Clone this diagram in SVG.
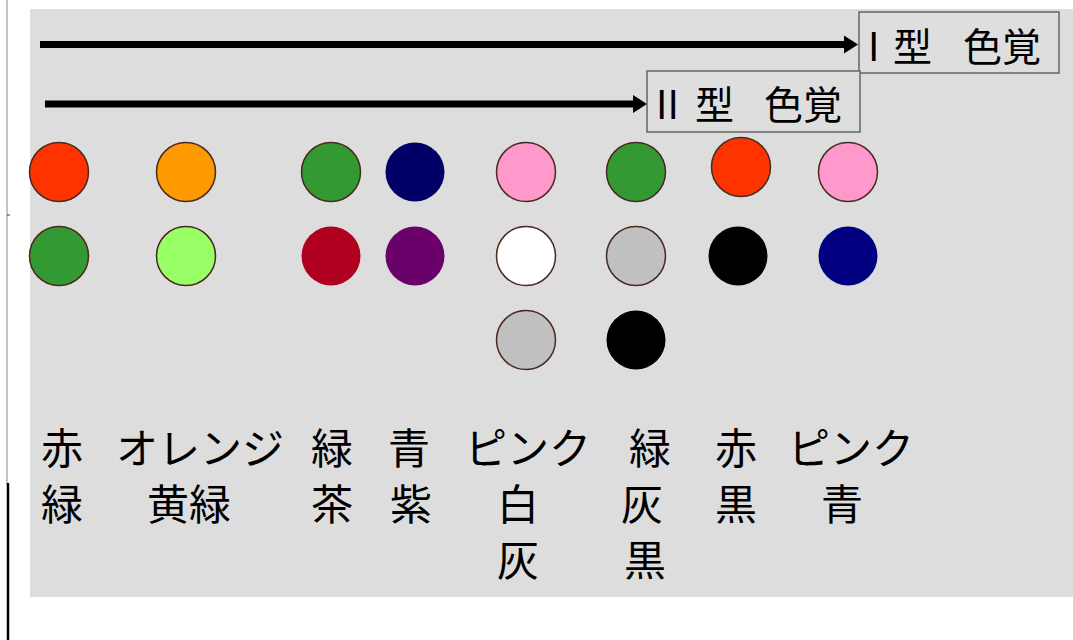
<svg xmlns="http://www.w3.org/2000/svg" width="1073" height="640" viewBox="0 0 1073 640">
<defs>
<style>
.lbl{font-family:"Noto Sans CJK JP","Liberation Sans",sans-serif;font-size:42px;fill:#000}
.ttl{font-family:"Noto Sans CJK JP","Liberation Sans",sans-serif;font-size:39px;fill:#000}
.box{fill:#dedede;stroke:#666;stroke-width:1.5}
.ol{stroke:#4a2a20;stroke-width:1.5}
.arr{stroke:#000;stroke-width:7;fill:none}
</style>
<marker id="ah" markerWidth="14" markerHeight="20" refX="6" refY="10" orient="auto" markerUnits="userSpaceOnUse">
<path d="M0,1 L14,10 L0,19 Z" fill="#000"/>
</marker>
</defs>
<rect width="1073" height="640" fill="#fff"/>
<line x1="7" y1="0" x2="7" y2="484" stroke="#888" stroke-width="1"/>
<line x1="7" y1="215" x2="10" y2="215" stroke="#333" stroke-width="1"/>
<line x1="8" y1="483" x2="8" y2="640" stroke="#000" stroke-width="2.5"/>
<rect id="panel" x="30" y="9" width="1043" height="588" fill="#dddddd"/>
<g id="connectors">
<line class="arr" x1="40" y1="44.5" x2="850" y2="44.5" marker-end="url(#ah)"/>
<line class="arr" x1="45" y1="104" x2="639" y2="104" marker-end="url(#ah)"/>
</g>
<g id="type1">
<rect class="box" x="859" y="12" width="200" height="61"/>
<text class="ttl" y="61"><tspan x="868">I</tspan><tspan x="893">型</tspan><tspan x="963">色覚</tspan></text>
</g>
<g id="type2">
<rect class="box" x="647" y="71" width="213" height="61"/>
<text class="ttl" y="119"><tspan x="656">II</tspan><tspan x="695">型</tspan><tspan x="764">色覚</tspan></text>
</g>
<g id="circles">
<circle class="ol" cx="59" cy="172" r="29.5" fill="#ff3300"/>
<circle class="ol" cx="186" cy="172" r="29.5" fill="#ff9900"/>
<circle class="ol" cx="331" cy="172" r="29.5" fill="#339933" stroke="#224422"/>
<circle cx="415" cy="172" r="29.5" fill="#000066"/>
<circle class="ol" cx="526" cy="172" r="29.5" fill="#ff99cc" stroke="#6a4a55"/>
<circle class="ol" cx="636" cy="172" r="29.5" fill="#339933" stroke="#224422"/>
<circle class="ol" cx="741" cy="167" r="29.5" fill="#ff3300"/>
<circle class="ol" cx="848" cy="172" r="29.5" fill="#ff99cc" stroke="#6a4a55"/>
<circle class="ol" cx="59" cy="256" r="29.5" fill="#339933" stroke="#224422"/>
<circle class="ol" cx="186" cy="256" r="29.5" fill="#99ff66" stroke="#335522"/>
<circle cx="331" cy="256" r="29.5" fill="#b00020"/>
<circle cx="415" cy="256" r="29.5" fill="#6a006a"/>
<circle class="ol" cx="526" cy="256" r="29.5" fill="#ffffff" stroke="#666"/>
<circle class="ol" cx="636" cy="256" r="29.5" fill="#c0c0c0" stroke="#666"/>
<circle cx="738" cy="256" r="29.5" fill="#000000"/>
<circle cx="848" cy="256" r="29.5" fill="#000080"/>
<circle class="ol" cx="526" cy="340" r="29.5" fill="#c0c0c0" stroke="#666"/>
<circle cx="636" cy="340" r="29.5" fill="#000000"/>
</g>
<g id="labels">
<text class="lbl" y="464"><tspan x="41">赤</tspan><tspan x="116">オレンジ</tspan><tspan x="311">緑</tspan><tspan x="388">青</tspan><tspan x="465">ピンク</tspan><tspan x="629">緑</tspan><tspan x="715">赤</tspan><tspan x="788">ピンク</tspan></text>
<text class="lbl" y="520"><tspan x="41">緑</tspan><tspan x="147">黄緑</tspan><tspan x="311">茶</tspan><tspan x="390">紫</tspan><tspan x="497">白</tspan><tspan x="621">灰</tspan><tspan x="715">黒</tspan><tspan x="821">青</tspan></text>
<text class="lbl" y="576"><tspan x="497">灰</tspan><tspan x="624">黒</tspan></text>
</g>
</svg>
